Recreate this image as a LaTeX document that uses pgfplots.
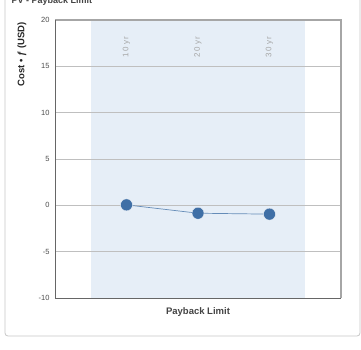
\documentclass[border=0pt]{standalone}
\usepackage{pgfplots}
\pgfplotsset{compat=1.18}
\usepackage{fontspec}
\setmainfont{Liberation Sans}
\definecolor{band}{HTML}{E6EEF7}
\definecolor{pt}{HTML}{3F6FA6}
\definecolor{tk}{HTML}{444444}
\begin{document}
\begin{tikzpicture}[x=1pt,y=1pt]
\clip (0,0) rectangle (361,349);
\draw[rounded corners=3pt, color=black!22, line width=0.8pt] (5,13) rectangle (360,380);
\node[anchor=base west, font=\bfseries\fontsize{9}{10}\selectfont, text=tk] at (8,345) {PV - Payback Limit};
\begin{axis}[at={(55pt,51pt)}, anchor=south west, scale only axis,
  width=286pt, height=278pt,
  xmin=-1, xmax=3, ymin=-10, ymax=20,
  ytick={-10,-5,...,20}, xtick=\empty,
  axis line style={draw=none}, tick style={draw=none},
  yticklabel style={font=\fontsize{7.5}{8}\selectfont, text=black!70, xshift=-2pt},
  /pgf/number format/assume math mode=true,
  clip=false]
  \fill[band] (axis cs:-0.5,-10) rectangle (axis cs:2.5,20);
  \draw[color=black!25, line width=0.6pt] (axis cs:-1,15) -- (axis cs:3,15);
  \draw[color=black!25, line width=0.6pt] (axis cs:-1,10) -- (axis cs:3,10);
  \draw[color=black!25, line width=0.6pt] (axis cs:-1,5) -- (axis cs:3,5);
  \draw[color=black!25, line width=0.6pt] (axis cs:-1,0) -- (axis cs:3,0);
  \draw[color=black!25, line width=0.6pt] (axis cs:-1,-5) -- (axis cs:3,-5);
  \draw[color=black!35, line width=1.2pt] (axis cs:-1,20) -- (axis cs:3,20) -- (axis cs:3,-10);
  \draw[color=black!60, line width=0.8pt] (axis cs:-1,20) -- (axis cs:-1,-10) -- (axis cs:3,-10);
  \addplot[color=pt!80, line width=0.7pt, mark=*, mark size=6pt, mark options={fill=pt, draw=white, line width=0.3pt}]
    coordinates {(0,0.05) (1,-0.85) (2,-0.95)};
  \node[rotate=90, anchor=east, text=black!35, font=\addfontfeatures{LetterSpace=12}\fontsize{8}{9}\selectfont] at (axis cs:0,18.6) {10 yr};
  \node[rotate=90, anchor=east, text=black!35, font=\addfontfeatures{LetterSpace=12}\fontsize{8}{9}\selectfont] at (axis cs:1,18.6) {20 yr};
  \node[rotate=90, anchor=east, text=black!35, font=\addfontfeatures{LetterSpace=12}\fontsize{8}{9}\selectfont] at (axis cs:2,18.6) {30 yr};
\end{axis}
\node[rotate=90, anchor=east, font=\bfseries\fontsize{9.5}{10}\selectfont, text=black!85] at (22,330) {Cost • ƒ (USD)};
\node[font=\bfseries\fontsize{9.5}{10}\selectfont, text=tk] at (198,37) {Payback Limit};
\end{tikzpicture}
\end{document}
